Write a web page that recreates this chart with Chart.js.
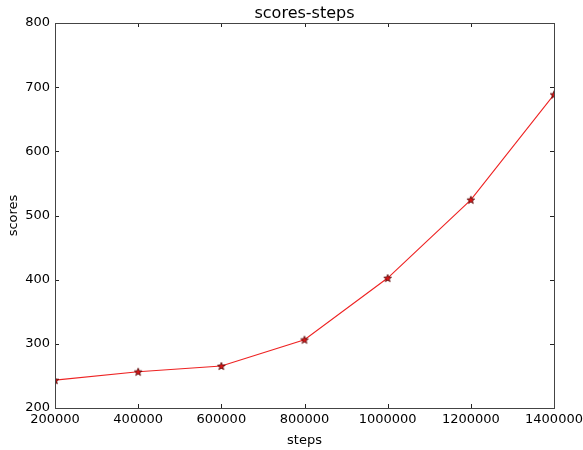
<!DOCTYPE html>
<html><head><meta charset="utf-8">
<script src="https://cdn.jsdelivr.net/npm/chart.js@4"></script>
<style>html,body{margin:0;padding:0;background:#fff}#wrap{width:583px;height:450px}</style>
</head><body><div id="wrap"><canvas id="c" width="583" height="450"></canvas></div>
<script>
const chartTitle = 'scores-steps';
const steps = [200000, 400000, 600000, 800000, 1000000, 1200000, 1400000];
const scores = [243.5, 256.5, 265.5, 306.5, 402.5, 524.5, 688.5];
const xTicks = [200000, 400000, 600000, 800000, 1000000, 1200000, 1400000];
const yTicks = [200, 300, 400, 500, 600, 700, 800];

function starImage(){
  const s = 10, cv = document.createElement('canvas');
  cv.width = s; cv.height = s;
  const g = cv.getContext('2d');
  const cx = s/2, cy = s/2+0.4, R = 4.0, r = 1.7;
  g.beginPath();
  for (let i = 0; i < 10; i++) {
    const a = -Math.PI/2 + i*Math.PI/5, rad = i%2 ? r : R;
    const px = cx + rad*Math.cos(a), py = cy + rad*Math.sin(a);
    i ? g.lineTo(px,py) : g.moveTo(px,py);
  }
  g.closePath();
  g.fillStyle = '#d81818'; g.fill();
  g.strokeStyle = '#500000'; g.lineWidth = 0.8; g.stroke();
  return cv;
}

const frame = {
  id: 'frame',
  afterDraw(chart){
    const {ctx, chartArea:a, scales:{x, y}} = chart;
    ctx.save();
    ctx.strokeStyle = '#222'; ctx.lineWidth = 1;
    ctx.beginPath();
    const L = 4;
    xTicks.forEach(v => { const px = Math.round(x.getPixelForValue(v))+0.5;
      ctx.moveTo(px, a.bottom); ctx.lineTo(px, a.bottom-L);
      ctx.moveTo(px, a.top); ctx.lineTo(px, a.top+L); });
    yTicks.forEach(v => { const py = Math.round(y.getPixelForValue(v))+0.5;
      ctx.moveTo(a.left, py); ctx.lineTo(a.left+L, py);
      ctx.moveTo(a.right, py); ctx.lineTo(a.right-L, py); });
    ctx.stroke();
    ctx.strokeStyle = '#444';
    ctx.strokeRect(Math.round(a.left)+0.5, Math.round(a.top)+0.5, Math.round(a.right-a.left), Math.round(a.bottom-a.top));
    // title centred over the plot area
    ctx.fillStyle = '#000';
    ctx.font = "16px 'DejaVu Sans', sans-serif";
    ctx.textAlign = 'center'; ctx.textBaseline = 'alphabetic';
    ctx.fillText(chartTitle, (a.left + a.right) / 2, a.top - 5);
    ctx.restore();
  }
};

const font = {family: "'DejaVu Sans', sans-serif", size: 13};
new Chart(document.getElementById('c'), {
  type: 'scatter',
  data: { datasets: [{
    data: steps.map((s,i) => ({x: s, y: scores[i]})),
    showLine: true, borderColor: '#ee2222', borderWidth: 1.1,
    pointStyle: starImage(), pointRadius: 5, pointHoverRadius: 5
  }]},
  options: {
    responsive: false, animation: false, events: [],
    layout: {padding: {left: 6, right: 29, top: 23, bottom: 0}},
    plugins: {
      legend: {display: false}, tooltip: {enabled: false},
      title: {display: false}
    },
    scales: {
      x: {type: 'linear', min: 200000, max: 1400000,
        afterBuildTicks: s => { s.ticks = xTicks.map(v => ({value: v})); },
        afterFit: s => { s.height = 42; s.paddingRight = 0; s.paddingLeft = 0; },
        grid: {display: false, drawTicks: false}, border: {display: false},
        ticks: {color: '#000', font, padding: 4, maxRotation: 0, autoSkip: false, callback: v => String(v)},
        title: {display: true, text: 'steps', color: '#000', font, padding: {top: 0, bottom: 2}}
      },
      y: {type: 'linear', min: 200, max: 800,
        afterBuildTicks: s => { s.ticks = yTicks.map(v => ({value: v})); },
        afterFit: s => { s.width = 49; s.paddingTop = 0; s.paddingBottom = 0; },
        grid: {display: false, drawTicks: false}, border: {display: false},
        ticks: {color: '#000', font, padding: 5, callback: v => String(v)},
        title: {display: true, text: 'scores', color: '#000', font, padding: {top: 0, bottom: 0}}
      }
    }
  },
  plugins: [frame]
});
</script></body></html>
